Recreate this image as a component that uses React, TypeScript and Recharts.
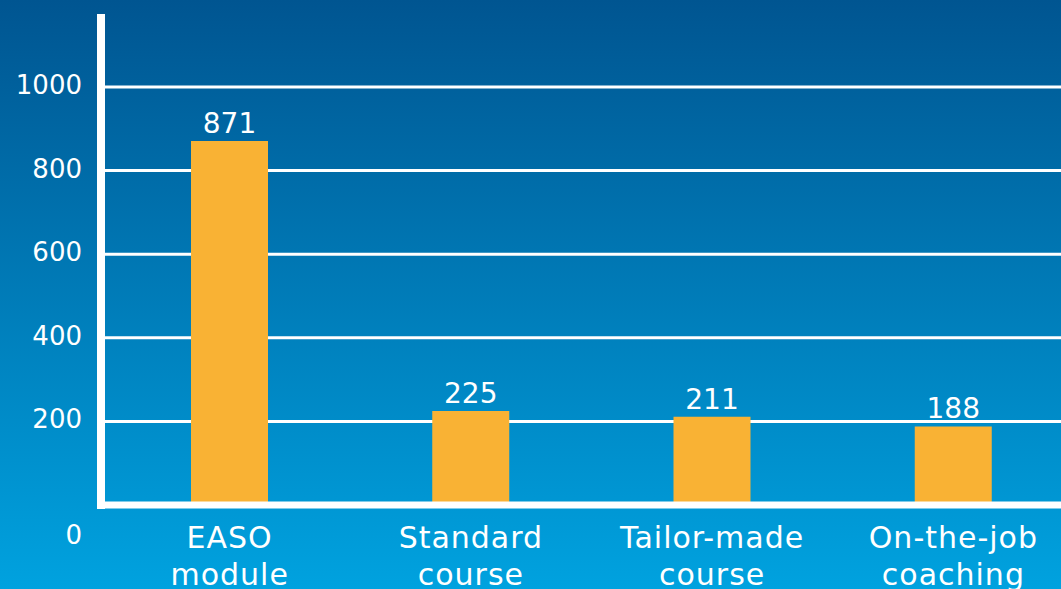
import { BarChart, Bar, XAxis, YAxis, CartesianGrid, LabelList } from 'recharts';

const categories = ['EASO module', 'Standard course', 'Tailor-made course', 'On-the-job coaching'];
const participants = [871, 225, 211, 188];
const yTicks = [0, 200, 400, 600, 800, 1000];
const gridValues = [200, 400, 600, 800, 1000];

const data = categories.map((name, i) => ({ name, value: participants[i] }));

const font = '"DejaVu Sans", sans-serif';

// y ticks, the 0 label sits below the axis line in the original
const YTick = ({ x, y, payload }: any) => (
  <text
    x={x}
    y={y + (payload.value === 0 ? 39 : 7)}
    textAnchor="end"
    fill="#fff"
    fontSize={26}
    fontFamily={font}
  >
    {payload.value}
  </text>
);

// two-line category labels
const XTick = ({ x, y, payload }: any) => {
  const words = String(payload.value).split(' ');
  return (
    <text x={x} y={y + 35} textAnchor="middle" fill="#fff" fontSize={30} fontFamily={font} letterSpacing={1}>
      {words.map((w, i) => (
        <tspan key={i} x={x} dy={i === 0 ? 0 : 37}>
          {w}
        </tspan>
      ))}
    </text>
  );
};

export default function App() {
  return (
    <div
      style={{
        position: 'absolute',
        top: 0,
        left: 0,
        width: 1061,
        height: 589,
        overflow: 'hidden',
        background: 'linear-gradient(#005591, #00a2df)',
      }}
    >
      <BarChart width={1074} height={589} data={data} margin={{ top: 18, right: 0, bottom: 0, left: 0 }}>
        <CartesianGrid
          horizontal
          vertical={false}
          horizontalValues={gridValues}
          stroke="#fff"
          strokeWidth={3}
        />
        <YAxis
          width={101}
          domain={[0, 1165]}
          ticks={yTicks}
          interval={0}
          tickLine={false}
          tickMargin={13}
          axisLine={{ stroke: '#fff', strokeWidth: 8, strokeLinecap: 'square' }}
          tick={(p: any) => <YTick {...p} />}
        />
        <Bar dataKey="value" fill="#f9b234" barSize={77} isAnimationActive={false}>
          <LabelList dataKey="value" position="top" offset={8} fill="#fff" fontSize={28} fontFamily={font} />
        </Bar>
        <XAxis
          dataKey="name"
          height={84}
          interval={0}
          padding={{ left: 8, right: 0 }}
          tickLine={false}
          tickMargin={2}
          axisLine={{ stroke: '#fff', strokeWidth: 7, strokeLinecap: 'square' }}
          tick={(p: any) => <XTick {...p} />}
        />
      </BarChart>
    </div>
  );
}
